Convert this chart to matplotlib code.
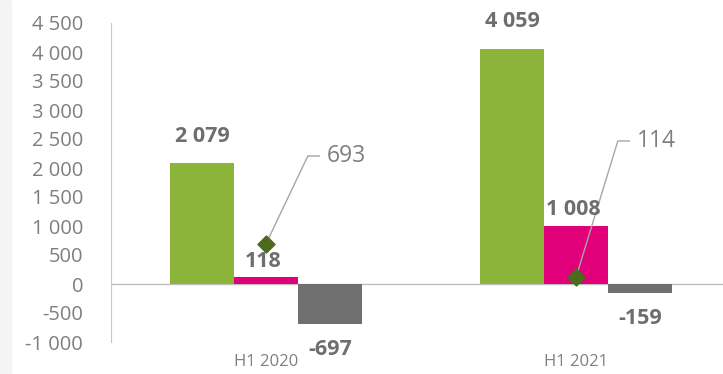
import numpy as np
import matplotlib.pyplot as plt

plt.rcParams['font.family'] = ['Open Sans', 'DejaVu Sans']

# Half-year figures
periods = ['H1 2020', 'H1 2021']
green_vals = [2079, 4059]
pink_vals = [118, 1008]
gray_vals = [-697, -159]
marker_vals = [693, 114]
marker_labels = ['693', '114']

green = '#8cb43a'
pink = '#e2007a'
gray = '#6f6f6f'
diamond = '#4d6a1e'
label_col = '#6e6e6e'
tick_col = '#7f7f7f'


def fmt(v):
    s = f'{abs(v):,}'.replace(',', ' ')
    return ('-' if v < 0 else '') + s


fig = plt.figure(figsize=(7.23, 3.74), dpi=100)
fig.patches.append(plt.Rectangle((0, 0), 11 / 723, 1, transform=fig.transFigure,
                                 color='#f4f4f4', zorder=-1))
ax = fig.add_axes([111 / 723, 32 / 374, 620 / 723, 319 / 374])

x = np.arange(len(periods))
w = 0.206
ax.bar(x - w, green_vals, w, color=green, zorder=2)
ax.bar(x, pink_vals, w, color=pink, zorder=2)
ax.bar(x + w, gray_vals, w, color=gray, zorder=2)
ax.scatter(x, marker_vals, marker='D', s=75, color=diamond, zorder=4)

# value labels on the bars
def bar_labels(xs, vals, dy):
    for xi, v in zip(xs, vals):
        ax.annotate(fmt(v), (xi, v), xytext=(0, dy), textcoords='offset points',
                    ha='center', va='center', fontsize=15.5, fontweight='bold',
                    color=label_col, zorder=5)

bar_labels(x - w, green_vals, 19.5)
bar_labels(x - 0.01, pink_vals, 11.5)
bar_labels(x + w, gray_vals, -18)

# marker labels with elbow leader lines
label_y = [2207, 2466]
for xi, v, ly, txt in zip(x, marker_vals, label_y, marker_labels):
    ax.plot([xi, xi + 0.135, xi + 0.172], [v, ly, ly], color='#a6a6a6',
            lw=1, zorder=3)
    ax.text(xi + 0.197, ly, txt, ha='left', va='center', fontsize=16.5,
            color=tick_col, zorder=5)

ax.set_xlim(-0.5, 1.5)
ax.set_ylim(-1000, 4500)
ax.set_yticks(np.arange(-1000, 4501, 500))
ax.set_yticklabels([fmt(v) for v in np.arange(-1000, 4501, 500)])
ax.set_xticks(x)
ax.set_xticklabels(periods)
ax.tick_params(axis='y', length=0, labelsize=14.5, labelcolor=tick_col, pad=20)
ax.tick_params(axis='x', length=0, labelsize=12, labelcolor=tick_col, pad=9)
ax.axhline(0, color='#bfbfbf', lw=1, zorder=1)
for side in ['top', 'right', 'bottom']:
    ax.spines[side].set_visible(False)
ax.spines['left'].set_color('#c8c8c8')

fig.savefig('out.png', dpi=100)
